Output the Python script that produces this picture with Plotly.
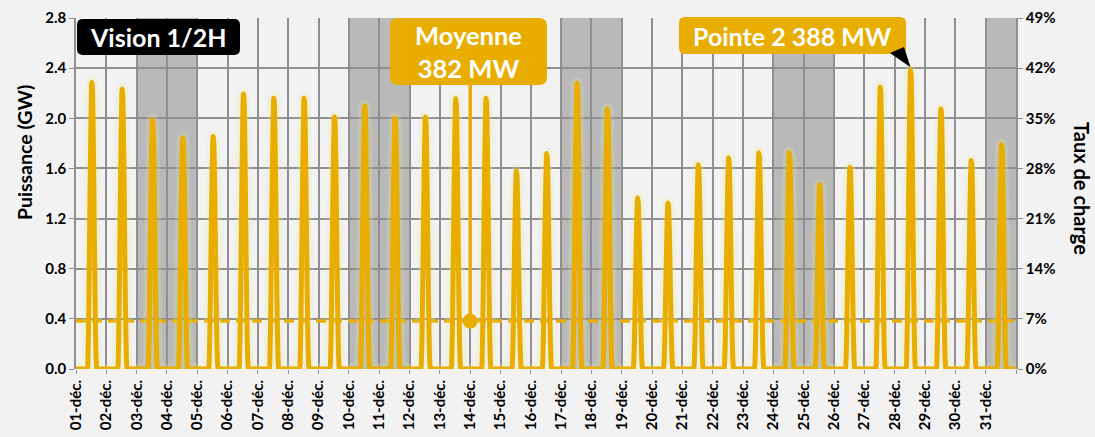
import plotly.graph_objects as go

# ---------------- data ----------------
day_labels = ["01-déc.", "02-déc.", "03-déc.", "04-déc.", "05-déc.", "06-déc.", "07-déc.",
              "08-déc.", "09-déc.", "10-déc.", "11-déc.", "12-déc.", "13-déc.", "14-déc.",
              "15-déc.", "16-déc.", "17-déc.", "18-déc.", "19-déc.", "20-déc.", "21-déc.",
              "22-déc.", "23-déc.", "24-déc.", "25-déc.", "26-déc.", "27-déc.", "28-déc.",
              "29-déc.", "30-déc.", "31-déc."]

# daily peak power (GW)
daily_peak_gw = [2.286, 2.233, 1.988, 1.842, 1.855, 2.193, 2.160, 2.160, 2.010, 2.100,
                 2.000, 2.010, 2.155, 2.160, 1.580, 1.720, 2.280, 2.075, 1.365, 1.325,
                 1.630, 1.685, 1.725, 1.725, 1.470, 1.610, 2.250, 2.388, 2.075, 1.663,
                 1.790]

# half-hour slots of the production window (index in the day) and their share of the daily peak
profile_slots = [18, 19, 20, 21, 22, 23, 24, 25, 26, 27, 28, 29, 30, 31, 32, 33]
profile_share = [0.00, 0.05, 0.17, 0.36, 0.57, 0.76, 0.91, 1.00, 0.98, 0.87,
                 0.69, 0.48, 0.28, 0.12, 0.03, 0.00]

shaded_days = [3, 4, 10, 11, 17, 18, 24, 25, 31]   # weekends / holidays
mean_gw = 0.382
mean_day = 14                                       # day of the mean marker
mean_label = "Moyenne<br>382 MW"
peak_label = "Pointe 2 388 MW"
load_ticks = [0, 7, 14, 21, 28, 35, 42, 49]         # %
power_ticks = [0.0, 0.4, 0.8, 1.2, 1.6, 2.0, 2.4, 2.8]

# ---------------- build half-hourly series ----------------
SLOTS = 48
share = dict(zip(profile_slots, profile_share))
x_vals, y_vals = [], []
for d, peak in enumerate(daily_peak_gw):
    for s in range(SLOTS):
        x_vals.append(d + s / SLOTS)
        y_vals.append(peak * share.get(s, 0.0))
x_vals.append(len(daily_peak_gw))
y_vals.append(0.0)

imax = max(range(len(y_vals)), key=lambda i: y_vals[i])
x_peak, y_peak = x_vals[imax], y_vals[imax]

ORANGE = "#E9AD00"
GRID = "#8f8f8f"
BG = "#f2f2f2"
FONT = "Lato"

W, H = 1095, 437
PL, PR, PT, PB = 76, 1016, 18, 369
NDAYS = len(day_labels)
YMAX = power_ticks[-1]


def pxx(px):
    return (px - PL) / (PR - PL)


def pxy(py):
    return (PB - py) / (PB - PT)


def rounded(x0, y0, x1, y1, r):
    P = lambda a, b: f"{pxx(a):.5f},{pxy(b):.5f}"
    return (f"M {P(x0 + r, y0)} L {P(x1 - r, y0)} Q {P(x1, y0)} {P(x1, y0 + r)} "
            f"L {P(x1, y1 - r)} Q {P(x1, y1)} {P(x1 - r, y1)} "
            f"L {P(x0 + r, y1)} Q {P(x0, y1)} {P(x0, y1 - r)} "
            f"L {P(x0, y0 + r)} Q {P(x0, y0)} {P(x0 + r, y0)} Z")


fig = go.Figure()

# mean dashed line
fig.add_trace(go.Scatter(x=[0, NDAYS], y=[mean_gw, mean_gw], mode="lines",
                         line=dict(color=ORANGE, width=3.5, dash="10px,6px"),
                         hoverinfo="skip", showlegend=False))
# glow
fig.add_trace(go.Scatter(x=x_vals, y=y_vals, mode="lines",
                         line=dict(color="rgba(228,234,150,0.22)", width=12,
                                   shape="spline", smoothing=0.7),
                         hoverinfo="skip", showlegend=False))
# main series
fig.add_trace(go.Scatter(x=x_vals, y=y_vals, mode="lines",
                         line=dict(color=ORANGE, width=5, shape="spline", smoothing=0.7),
                         showlegend=False))
# mean marker
fig.add_trace(go.Scatter(x=[mean_day - 1], y=[mean_gw], mode="markers",
                         marker=dict(color=ORANGE, size=15),
                         showlegend=False))
# dummy for secondary axis
fig.add_trace(go.Scatter(x=[0], y=[0], yaxis="y2", mode="markers",
                         marker=dict(opacity=0), hoverinfo="skip", showlegend=False))

shapes = []
for d in shaded_days:
    shapes.append(dict(type="rect", xref="x", yref="y", x0=d - 1, x1=d, y0=0, y1=YMAX,
                       fillcolor="#b9b9b9", line=dict(width=0), layer="below"))

# mean stem from box to marker
box_bottom_gw = YMAX * (PB - 85) / (PB - PT)
shapes.append(dict(type="line", xref="x", yref="y", x0=mean_day - 1, x1=mean_day - 1,
                   y0=mean_gw, y1=box_bottom_gw, line=dict(color=ORANGE, width=3.5)))

# rounded label boxes
shapes.append(dict(type="path", xref="paper", yref="paper",
                   path=rounded(77, 19, 240, 55, 6), fillcolor="black", line=dict(width=0)))
shapes.append(dict(type="path", xref="paper", yref="paper",
                   path=rounded(390, 18, 547, 85, 8), fillcolor=ORANGE, line=dict(width=0)))
shapes.append(dict(type="path", xref="paper", yref="paper",
                   path=rounded(679, 17, 906, 54, 6), fillcolor=ORANGE, line=dict(width=0)))


def dx(px):
    return (px - PL) / (PR - PL) * NDAYS


def dy(py):
    return YMAX * (PB - py) / (PB - PT)


# black callout pointer to the peak
shapes.append(dict(type="path", xref="x", yref="y",
                   path=(f"M {dx(890):.4f},{dy(53):.4f} L {dx(904):.4f},{dy(47):.4f} "
                         f"L {x_peak:.4f},{y_peak + 0.02:.4f} Z"),
                   fillcolor="black", line=dict(width=0)))


def ann(text, px, py, size, color, angle=0):
    return dict(text=text, x=pxx(px), y=pxy(py), xref="paper", yref="paper",
                xanchor="center", yanchor="middle", textangle=angle, showarrow=False,
                font=dict(family=FONT, size=size, color=color, weight="bold"))


annotations = [
    ann("Vision 1/2H", 158.5, 37, 25, "white"),
    ann(mean_label, 468.5, 52, 25.5, "white"),
    ann(peak_label, 792.5, 36, 25, "white"),
    ann("Puissance (GW)", 24, 153, 19.5, "black", -90),
    ann("Taux de charge", 1082, 188, 20, "black", 90),
]

tickfont = dict(family=FONT, size=15, color="black", weight="bold")

fig.update_layout(
    width=W, height=H,
    margin=dict(l=PL, r=W - PR, t=PT, b=H - PB, pad=0, autoexpand=False),
    paper_bgcolor=BG, plot_bgcolor=BG,
    showlegend=False,
    xaxis=dict(range=[0, NDAYS], tickmode="array", automargin=False,
               tickvals=list(range(NDAYS + 1)), ticktext=day_labels + [""],
               tickangle=-90, tickfont=dict(family=FONT, size=15, color="black", weight="bold"),
               showgrid=True, gridcolor=GRID, gridwidth=1.5,
               ticks="outside", ticklen=4, tickcolor=GRID, zeroline=False,
               showline=False),
    yaxis=dict(range=[0, YMAX], tickmode="array", tickvals=power_ticks, automargin=False,
               ticktext=[f"{v:.1f}" for v in power_ticks], tickfont=tickfont,
               showgrid=True, gridcolor=GRID, gridwidth=1.5, zeroline=False,
               ticks="outside", ticklen=5, tickcolor=GRID,
               showline=True, linecolor=GRID, linewidth=1.5),
    yaxis2=dict(range=[0, load_ticks[-1]], overlaying="y", side="right", automargin=False,
                tickmode="array", tickvals=load_ticks,
                ticktext=[f"{v}%" for v in load_ticks], tickfont=tickfont,
                showgrid=False, zeroline=False, ticks="outside", ticklen=5,
                tickcolor=GRID, showline=True, linecolor=GRID, linewidth=1.5),
    shapes=shapes,
    annotations=annotations,
)

fig.write_html("out.html", config={"displayModeBar": False},
               post_script="document.body.style.margin='0';document.body.style.overflow='hidden';")
